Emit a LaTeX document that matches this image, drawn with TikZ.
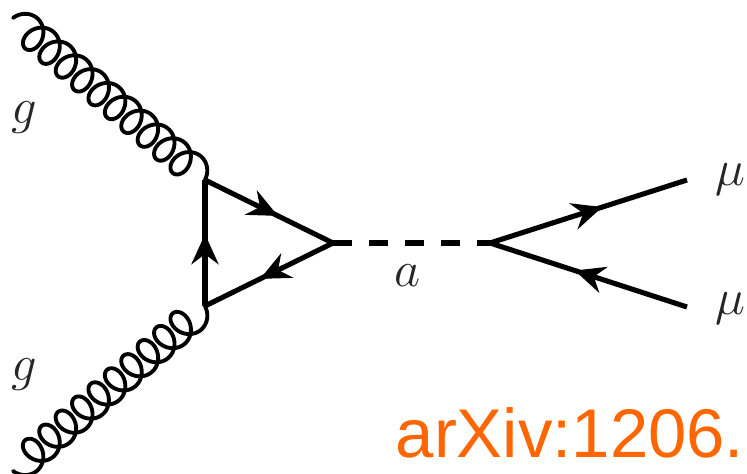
\documentclass[tikz,border=0pt]{standalone}
\usepackage{fontspec}
\setsansfont{Liberation Sans}
\usepackage{xcolor}
\usetikzlibrary{arrows.meta, calc, decorations.markings}

\definecolor{sourceorange}{RGB}{255,102,0}

% #1 start, #2 end, #3 side of the loops (1 or -1)
\newcommand{\gluonline}[3]{
    \draw[gluon] let \p1=($(#2)-(#1)$), \n1={veclen(\x1,\y1)}, \n2={atan2(\y1,\x1)} in
        [shift={(#1)}, rotate=\n2]
        plot[variable=\t, domain=-90:3690, samples=500]
        ({3.7pt+((\t+90)/3780)*(\n1-7.4pt)+3.7pt*sin(\t)}, {#3*4.4pt*cos(\t)});
}

\begin{document}
\begin{tikzpicture}
    \tikzset{
        gluon/.style={
                line width=1.1pt, line join=round, line cap=round
            },
        fermion/.style={
                line width=1.45pt,
                postaction={decorate},
                decoration={markings, mark=at position 0.57 with {\arrow{Stealth[length=0.3cm, width=0.27cm, inset=0.1cm]}}}
            },
        scalar/.style={
                line width=1.45pt, dash pattern=on 0.19cm off 0.17cm
            },
        particle label/.style={
                font=\fontsize{14.5}{17}\selectfont, text=black!85, anchor=center, inner sep=0pt
            },
        source label/.style={
                font=\sffamily\fontsize{19.6}{23}\selectfont, text=sourceorange, anchor=base west, inner sep=0pt
            }
    }
    \useasboundingbox (0, 0) rectangle (7.47, 4.74);

    \coordinate (gluontop) at (0.13, 4.56);
    \coordinate (gluonbot) at (0.13, 0.03);
    \coordinate (loopa) at (2.05, 2.94);
    \coordinate (loopb) at (2.05, 1.68);
    \coordinate (loopc) at (3.33, 2.31);
    \coordinate (decay) at (4.90, 2.31);
    \coordinate (mutop) at (6.87, 2.94);
    \coordinate (mubot) at (6.87, 1.67);

    % gluons into the loop
    \gluonline{gluontop}{loopa}{1}
    \gluonline{gluonbot}{loopb}{-1}

    % fermion triangle
    \draw[fermion] (loopa) -- (loopc);
    \draw[fermion] (loopc) -- (loopb);
    \draw[fermion] (loopb) -- (loopa);

    % pseudoscalar and muons
    \draw[scalar] (loopc) -- (decay);
    \draw[fermion] (decay) -- (mutop);
    \draw[fermion] (mubot) -- (decay);

    \node[particle label] (gtop) at (0.24, 3.56) {$g$};
    \node[particle label] (gbot) at (0.24, 0.99) {$g$};
    \node[particle label] (axion) at (4.08, 1.98) {$a$};
    \node[particle label] (mua) at (7.30, 2.94) {$\mu$};
    \node[particle label] (mub) at (7.30, 1.65) {$\mu$};
    \node[source label] (source) at (3.95, 0.16) {arXiv:1206.};
\end{tikzpicture}
\end{document}
